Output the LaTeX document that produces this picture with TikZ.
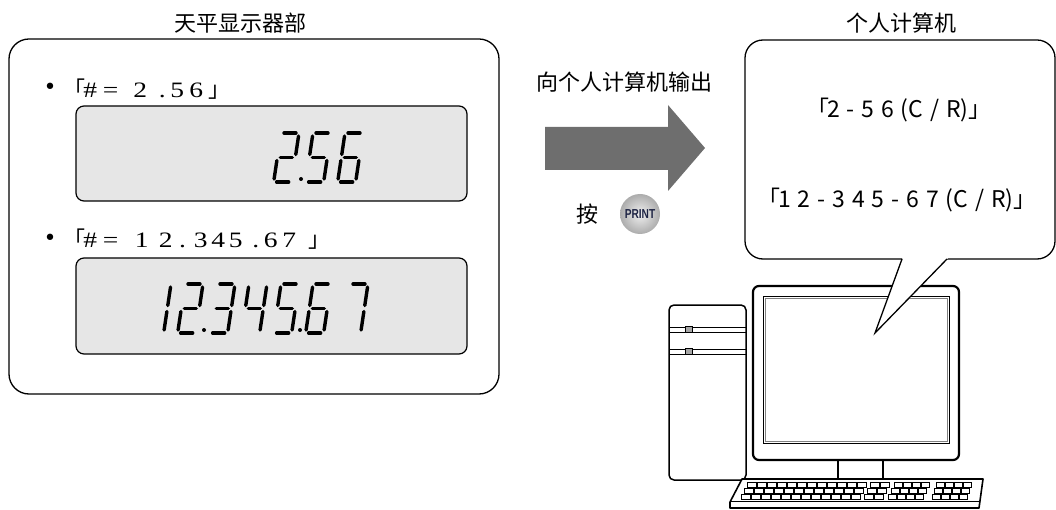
\documentclass[tikz,border=0pt]{standalone}
\usepackage{fontspec}
\newfontfamily\cjk{Noto Sans CJK SC}
\newfontfamily\btnfont{Liberation Sans}
\newfontfamily\valfont{Liberation Serif}[FakeStretch=1.25]
\newfontfamily\dotfont{DejaVu Sans}
\definecolor{lcdbg}{HTML}{E6E6E6}
\definecolor{arrowgray}{HTML}{6E6E6E}
\definecolor{btnink}{HTML}{1E2444}

% seven-segment digit: segments a..g in a cell 18 wide, 49 high
\newcommand\segline[4]{\draw[lcdseg] (#1,#2) -- (#3,#4);}
\newcommand\lcdsega{\segline{3}{0}{15}{0}}
\newcommand\lcdsegb{\segline{18}{3}{18}{21.5}}
\newcommand\lcdsegc{\segline{18}{27.5}{18}{46}}
\newcommand\lcdsegd{\segline{3}{49}{15}{49}}
\newcommand\lcdsege{\segline{0}{27.5}{0}{46}}
\newcommand\lcdsegf{\segline{0}{3}{0}{21.5}}
\newcommand\lcdsegg{\segline{3}{24.5}{15}{24.5}}
\newcommand\lcddigit[3]{%
  \begin{scope}[shift={(#1,#2)}, xslant=0.15]
    \foreach \s in {#3}{\csname lcdseg\s\endcsname}
  \end{scope}}

% one glyph centred at a horizontal offset from the start of the line
\newcommand\gl[2]{\makebox[0pt][l]{\hspace*{#1pt}\makebox[0pt][c]{#2}}}
% wider word spaces for the transmitted strings
\newcommand\widesp{\spaceskip=0.3em\relax}

\tikzset{
  frame/.style={draw, line width=1.3pt, rounded corners=20pt},
  lcdpanel/.style={draw, line width=1.2pt, fill=lcdbg, rounded corners=8pt},
  lcdseg/.style={line width=3.4pt, line cap=round},
  cjktext/.style={font=\cjk\fontsize{22}{26}\selectfont, inner sep=0pt},
  valtext/.style={font=\valfont\fontsize{22}{26}\selectfont, inner sep=0pt, anchor=base west},
  bullet/.style={font=\dotfont\fontsize{22}{26}\selectfont, inner sep=0pt},
  pctext/.style={font=\cjk\fontsize{23}{27}\selectfont, inner sep=0pt},
  hw/.style={line width=1.5pt},
  keycap/.style={line width=0.5pt, fill=white},
}

\begin{document}
\begin{tikzpicture}[x=1pt, y=-1pt]
\useasboundingbox (0,0) rectangle (1056,510);

% balance display panel
\node[cjktext] (lefttitle) at (240,23) {天平显示器部};
\draw[frame] (9,39) rectangle (499,394);

\node[bullet] (bul1) at (50,89) {•};
\node[valtext] (val1) at (0,98) {\gl{74}{\cjk 「}\gl{89.5}{\#}\gl{110}{=}\gl{139.5}{2}%
  \gl{161.5}{.}\gl{176.5}{5}\gl{195.5}{6}\gl{219}{\cjk 」}};
\draw[lcdpanel] (76,106) rectangle (467,201);
\lcddigit{281}{133}{a,b,g,e,d}
\fill (301,179) circle[radius=2];
\lcddigit{313}{133}{a,f,g,c,d}
\lcddigit{345}{133}{a,f,g,e,c,d}

\node[bullet] (bul2) at (50,240) {•};
\node[valtext] (val2) at (0,248) {\gl{74}{\cjk 「}\gl{89.5}{\#}\gl{110}{=}\gl{141}{1}%
  \gl{165}{2}\gl{182}{.}\gl{200}{3}\gl{217.5}{4}\gl{235}{5}\gl{255}{.}%
  \gl{270}{6}\gl{288.5}{7}\gl{319}{\cjk 」}};
\draw[lcdpanel] (76,258) rectangle (467,354);
\lcddigit{153}{284}{b,c}
\lcddigit{185}{284}{a,b,g,e,d}
\fill (204,330) circle[radius=2];
\lcddigit{217}{284}{a,b,g,c,d}
\lcddigit{249}{284}{f,g,b,c}
\lcddigit{281}{284}{a,f,g,c,d}
\fill (300,330) circle[radius=2];
\lcddigit{313}{284}{a,f,g,e,c,d}
\lcddigit{350}{284}{a,b,c}

% output arrow
\node[cjktext] (outlabel) at (624,82) {向个人计算机输出};
\fill[arrowgray] (545,127) -- (668,127) -- (668,105) -- (705,148)
  -- (668,191) -- (668,170) -- (545,170) -- cycle;
\node[cjktext] (press) at (587,214) {按};
\node[circle, minimum size=40pt, inner sep=0pt, shading=radial,
      inner color=gray!12, outer color=gray!65,
      font=\btnfont\bfseries\fontsize{13}{13}\selectfont, text=btnink]
  (printkey) at (640,214) {\scalebox{0.78}[1]{PRINT}};

% computer
\node[cjktext] (righttitle) at (901,23) {个人计算机};
\draw[hw, rounded corners=5pt] (669,305) rectangle (746,480);
\draw[line width=1pt] (669,327) -- (746,327) (669,332) -- (746,332)
                      (669,349) -- (746,349) (669,354) -- (746,354);
\filldraw[fill=gray!70, line width=0.6pt] (685,326.5) rectangle (692,332.5);
\filldraw[fill=gray!70, line width=0.6pt] (685,348.5) rectangle (692,354.5);

\draw[line width=2.2pt, rounded corners=6pt] (753,286) rectangle (959,460);
\draw[line width=0.9pt] (763,296) rectangle (949,443);
\draw[line width=0.6pt, gray] (765,298) rectangle (947,441);
\draw[hw] (838,460) -- (838,479) (883,460) -- (883,479);

% keyboard
\filldraw[fill=white, line width=1.6pt, line join=round]
  (742,479) -- (983,479) -- (979,508) -- (730,508) -- (730,502) -- cycle;
\draw[line width=0.9pt] (731,501) -- (980,501);
\foreach \r in {0,1,2}{
  \pgfmathsetmacro\ky{482+6*\r}
  \pgfmathsetmacro\kx{747-3*\r}
  \foreach \k in {0,...,11}{\draw[keycap] (\kx+10*\k,\ky) rectangle ++(9,5);}
  \foreach \k in {0,1}{\draw[keycap] (\kx+123+10*\k,\ky) rectangle ++(9,5);}
  \foreach \k in {0,...,3}{\draw[keycap] (\kx+147+9*\k,\ky) rectangle ++(8,5);}
  \foreach \k in {0,...,3}{\draw[keycap] (\kx+189+\r+9*\k,\ky) rectangle ++(8,5);}
}

% speech bubble from the screen
\draw[fill=white, line width=1.3pt, rounded corners=18pt] (745,40) rectangle (1055,259);
\fill[white] (902.7,257.4) -- (875,333) -- (948.6,257.4) -- cycle;
\draw[line width=1.3pt, line join=miter] (902,259) -- (875,333) -- (947,259);
\node[pctext] (line1) at (899,110) {\widesp「\kern-0.1em 2 - 5 6 (C / R)」};
\node[pctext] (line2) at (897,200) {\widesp「\kern-0.1em 1 2 - 3 4 5 - 6 7 (C / R)」};
\end{tikzpicture}
\end{document}
